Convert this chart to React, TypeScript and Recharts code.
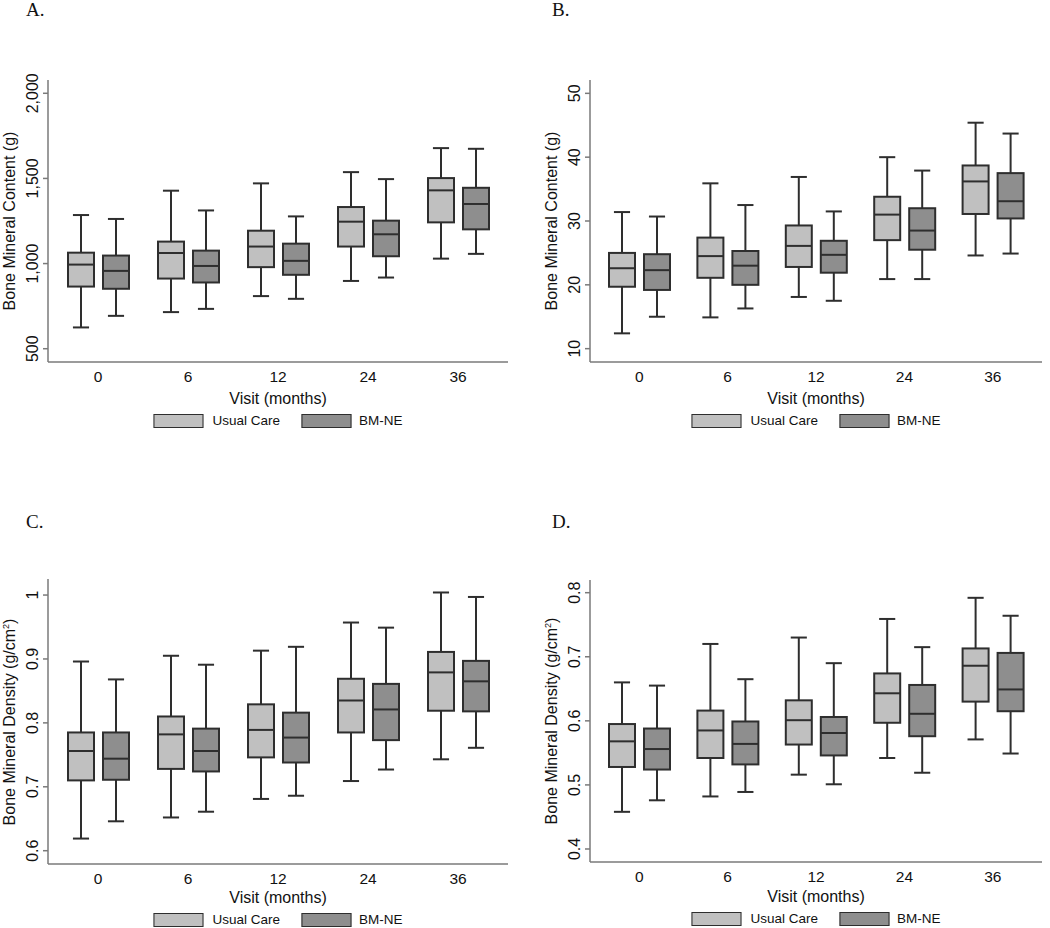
import React from "react";
import { BarChart, Bar, XAxis, YAxis } from "recharts";

const visits = ["0", "6", "12", "24", "36"];

// each entry: [lower whisker, Q1, median, Q3, upper whisker] per visit
const bmcTotalUsualCare = [
  [625, 865, 994, 1064, 1285],
  [715, 912, 1062, 1129, 1428],
  [809, 979, 1100, 1193, 1471],
  [898, 1100, 1246, 1332, 1537],
  [1029, 1242, 1430, 1502, 1678],
];
const bmcTotalBmne = [
  [693, 852, 957, 1047, 1262],
  [734, 889, 986, 1076, 1312],
  [793, 934, 1016, 1117, 1277],
  [918, 1043, 1172, 1252, 1496],
  [1057, 1201, 1350, 1445, 1674],
];

const bmcSiteUsualCare = [
  [12.4, 19.7, 22.6, 25.0, 31.4],
  [14.9, 21.1, 24.5, 27.4, 35.9],
  [18.1, 22.8, 26.1, 29.3, 36.9],
  [20.9, 27.0, 31.0, 33.8, 40.0],
  [24.6, 31.1, 36.2, 38.7, 45.4],
];
const bmcSiteBmne = [
  [15.0, 19.2, 22.3, 24.8, 30.7],
  [16.3, 20.0, 23.0, 25.3, 32.5],
  [17.5, 21.9, 24.7, 26.9, 31.5],
  [20.9, 25.5, 28.5, 32.0, 37.9],
  [24.9, 30.4, 33.1, 37.5, 43.7],
];

const bmdTotalUsualCare = [
  [0.619, 0.71, 0.756, 0.785, 0.896],
  [0.652, 0.728, 0.782, 0.81, 0.905],
  [0.681, 0.746, 0.789, 0.829, 0.913],
  [0.709, 0.785, 0.835, 0.869, 0.957],
  [0.743, 0.819, 0.879, 0.911, 1.004],
];
const bmdTotalBmne = [
  [0.646, 0.711, 0.744, 0.785, 0.868],
  [0.661, 0.724, 0.756, 0.791, 0.891],
  [0.686, 0.738, 0.777, 0.816, 0.919],
  [0.727, 0.773, 0.821, 0.861, 0.949],
  [0.761, 0.818, 0.865, 0.897, 0.997],
];

const bmdSiteUsualCare = [
  [0.458, 0.528, 0.568, 0.595, 0.66],
  [0.482, 0.542, 0.585, 0.616, 0.72],
  [0.516, 0.563, 0.601, 0.632, 0.73],
  [0.542, 0.597, 0.643, 0.674, 0.759],
  [0.571, 0.63, 0.686, 0.713, 0.792],
];
const bmdSiteBmne = [
  [0.476, 0.524, 0.556, 0.588, 0.655],
  [0.489, 0.532, 0.564, 0.599, 0.665],
  [0.501, 0.546, 0.581, 0.606, 0.69],
  [0.519, 0.576, 0.611, 0.656, 0.715],
  [0.549, 0.615, 0.649, 0.706, 0.764],
];

const ticksA = [500, 1000, 1500, 2000];
const ticksB = [10, 20, 30, 40, 50];
const ticksC = [0.6, 0.7, 0.8, 0.9, 1];
const ticksD = [0.4, 0.5, 0.6, 0.7, 0.8];

const UC_FILL = "#c0c0c0";
const BM_FILL = "#8e8e8e";
const INK = "#2e2e2e";
const AXIS = "#7a7a7a";
const SANS = '"Liberation Sans", Arial, sans-serif';
const X_AXIS_H = 28;

type Stats = number[];

const buildRows = (uc: Stats[], bm: Stats[]) =>
  visits.map((visit, i) => ({ visit, uc: uc[i], bm: bm[i] }));

// box drawn inside the whisker range bar; median/quartiles mapped linearly
// between the bar's own top (max) and bottom (min) pixels
const BoxShape = (props: any) => {
  const { x, y, width, height, stats, color } = props;
  const [lo, q1, med, q3, hi] = stats as Stats;
  const top = Math.min(y, y + height);
  const bottom = Math.max(y, y + height);
  const py = (v: number) => bottom - ((v - lo) / (hi - lo)) * (bottom - top);
  const cx = x + width / 2;
  const cap = width * 0.62;
  return (
    <g>
      <line x1={cx} x2={cx} y1={py(hi)} y2={py(q3)} stroke={INK} strokeWidth={2} />
      <line x1={cx} x2={cx} y1={py(q1)} y2={py(lo)} stroke={INK} strokeWidth={2} />
      <line x1={cx - cap / 2} x2={cx + cap / 2} y1={py(hi)} y2={py(hi)} stroke={INK} strokeWidth={2} />
      <line x1={cx - cap / 2} x2={cx + cap / 2} y1={py(lo)} y2={py(lo)} stroke={INK} strokeWidth={2} />
      <rect x={x} y={py(q3)} width={width} height={py(q1) - py(q3)} fill={color} stroke={INK} strokeWidth={2} />
      <line x1={x} x2={x + width} y1={py(med)} y2={py(med)} stroke={INK} strokeWidth={2} />
    </g>
  );
};

const fmt = (v: number) => v.toLocaleString("en-US");

const YTick = ({ x, y, payload }: any) => (
  <text
    x={x}
    y={y}
    transform={`rotate(-90 ${x} ${y})`}
    textAnchor="middle"
    fontSize={16}
    fontFamily={SANS}
    fill="#111"
  >
    {fmt(payload.value)}
  </text>
);

interface PanelProps {
  left: number;
  top: number;
  width: number;
  height: number;
  marginTop: number;
  marginRight: number;
  yAxisWidth: number;
  domain: [number, number];
  ticks: number[];
  yLabel: React.ReactNode;
  letter: string;
  letterX: number;
  letterY: number;
  legendGap: number;
  uc: Stats[];
  bm: Stats[];
}

const Panel: React.FC<PanelProps> = (p) => {
  const data = buildRows(p.uc, p.bm);
  const plotLeft = p.left + p.yAxisWidth;
  const plotRight = p.left + p.width - p.marginRight;
  const plotMid = (plotLeft + plotRight) / 2;
  const axisY = p.top + p.height - X_AXIS_H;
  const plotTop = p.top + p.marginTop;

  return (
    <>
      <div
        style={{
          position: "absolute",
          left: p.letterX,
          top: p.letterY,
          fontFamily: '"Liberation Serif", "Times New Roman", serif',
          fontSize: 19,
          lineHeight: 1,
          color: "#111",
        }}
      >
        {p.letter}
      </div>
      <div style={{ position: "absolute", left: p.left, top: p.top }}>
        <BarChart
          width={p.width}
          height={p.height}
          data={data}
          barSize={26}
          barGap={9}
          margin={{ top: p.marginTop, right: p.marginRight, left: 0, bottom: 0 }}
        >
          <XAxis
            dataKey="visit"
            height={X_AXIS_H}
            padding={{ left: 5, right: 5 }}
            tickLine={false}
            tickSize={0}
            tickMargin={9}
            axisLine={{ stroke: AXIS, strokeWidth: 1.5 }}
            tick={{ fill: "#111", fontSize: 15.5, fontFamily: SANS }}
          />
          <YAxis
            type="number"
            width={p.yAxisWidth}
            domain={p.domain}
            ticks={p.ticks}
            allowDataOverflow
            tickSize={5}
            tickMargin={5}
            axisLine={{ stroke: AXIS, strokeWidth: 1.5 }}
            tickLine={{ stroke: AXIS, strokeWidth: 1.5 }}
            tick={<YTick />}
          />
          <Bar
            dataKey={(d: any) => [d.uc[0], d.uc[4]]}
            isAnimationActive={false}
            shape={(s: any) => <BoxShape {...s} stats={s.payload.uc} color={UC_FILL} />}
          />
          <Bar
            dataKey={(d: any) => [d.bm[0], d.bm[4]]}
            isAnimationActive={false}
            shape={(s: any) => <BoxShape {...s} stats={s.payload.bm} color={BM_FILL} />}
          />
        </BarChart>
      </div>
      <div
        style={{
          position: "absolute",
          left: p.left + p.yAxisWidth - 38,
          top: (plotTop + axisY) / 2,
          transform: "translate(-50%, -50%) rotate(-90deg)",
          whiteSpace: "nowrap",
          fontFamily: SANS,
          fontSize: 16,
          color: "#111",
          lineHeight: 1,
        }}
      >
        {p.yLabel}
      </div>
      <div
        style={{
          position: "absolute",
          left: plotMid,
          top: axisY + p.legendGap - 15,
          transform: "translate(-50%, -50%)",
          whiteSpace: "nowrap",
          fontFamily: SANS,
          fontSize: 16,
          color: "#111",
        }}
      >
        Visit (months)
      </div>
      <div
        style={{
          position: "absolute",
          left: plotMid,
          top: axisY + p.legendGap,
          transform: "translateX(-50%)",
          display: "flex",
          alignItems: "center",
          whiteSpace: "nowrap",
          fontFamily: SANS,
          fontSize: 13.5,
          lineHeight: 1,
          color: "#111",
          height: 14,
        }}
      >
        <span
          style={{
            width: 48,
            height: 12,
            background: UC_FILL,
            border: `1.5px solid ${INK}`,
            marginRight: 9,
          }}
        />
        <span style={{ marginRight: 21 }}>Usual Care</span>
        <span
          style={{
            width: 48,
            height: 12,
            background: BM_FILL,
            border: `1.5px solid ${INK}`,
            marginRight: 8,
          }}
        />
        <span>BM-NE</span>
      </div>
    </>
  );
};

const densityLabel = (
  <span>
    Bone Mineral Density (g/cm<sup style={{ fontSize: 9, lineHeight: 0 }}>2</sup>)
  </span>
);

export default function App() {
  return (
    <div
      style={{
        position: "absolute",
        left: 0,
        top: 0,
        width: 1050,
        height: 928,
        background: "#fff",
        overflow: "hidden",
      }}
    >
      <Panel
        left={0}
        top={60}
        width={520}
        height={330}
        marginTop={20}
        marginRight={12}
        yAxisWidth={48}
        domain={[422, 2078]}
        ticks={ticksA}
        yLabel="Bone Mineral Content (g)"
        letter="A."
        letterX={26}
        letterY={0}
        legendGap={52}
        uc={bmcTotalUsualCare}
        bm={bmcTotalBmne}
      />
      <Panel
        left={520}
        top={60}
        width={530}
        height={330}
        marginTop={20}
        marginRight={8}
        yAxisWidth={70}
        domain={[7.91, 52.09]}
        ticks={ticksB}
        yLabel="Bone Mineral Content (g)"
        letter="B."
        letterX={552}
        letterY={0}
        legendGap={52}
        uc={bmcSiteUsualCare}
        bm={bmcSiteBmne}
      />
      <Panel
        left={0}
        top={560}
        width={520}
        height={332}
        marginTop={19}
        marginRight={12}
        yAxisWidth={48}
        domain={[0.5792, 1.0251]}
        ticks={ticksC}
        yLabel={densityLabel}
        letter="C."
        letterX={26}
        letterY={512}
        legendGap={49}
        uc={bmdTotalUsualCare}
        bm={bmdTotalBmne}
      />
      <Panel
        left={520}
        top={560}
        width={530}
        height={330}
        marginTop={20}
        marginRight={8}
        yAxisWidth={70}
        domain={[0.3797, 0.8198]}
        ticks={ticksD}
        yLabel={densityLabel}
        letter="D."
        letterX={552}
        letterY={512}
        legendGap={50}
        uc={bmdSiteUsualCare}
        bm={bmdSiteBmne}
      />
    </div>
  );
}
